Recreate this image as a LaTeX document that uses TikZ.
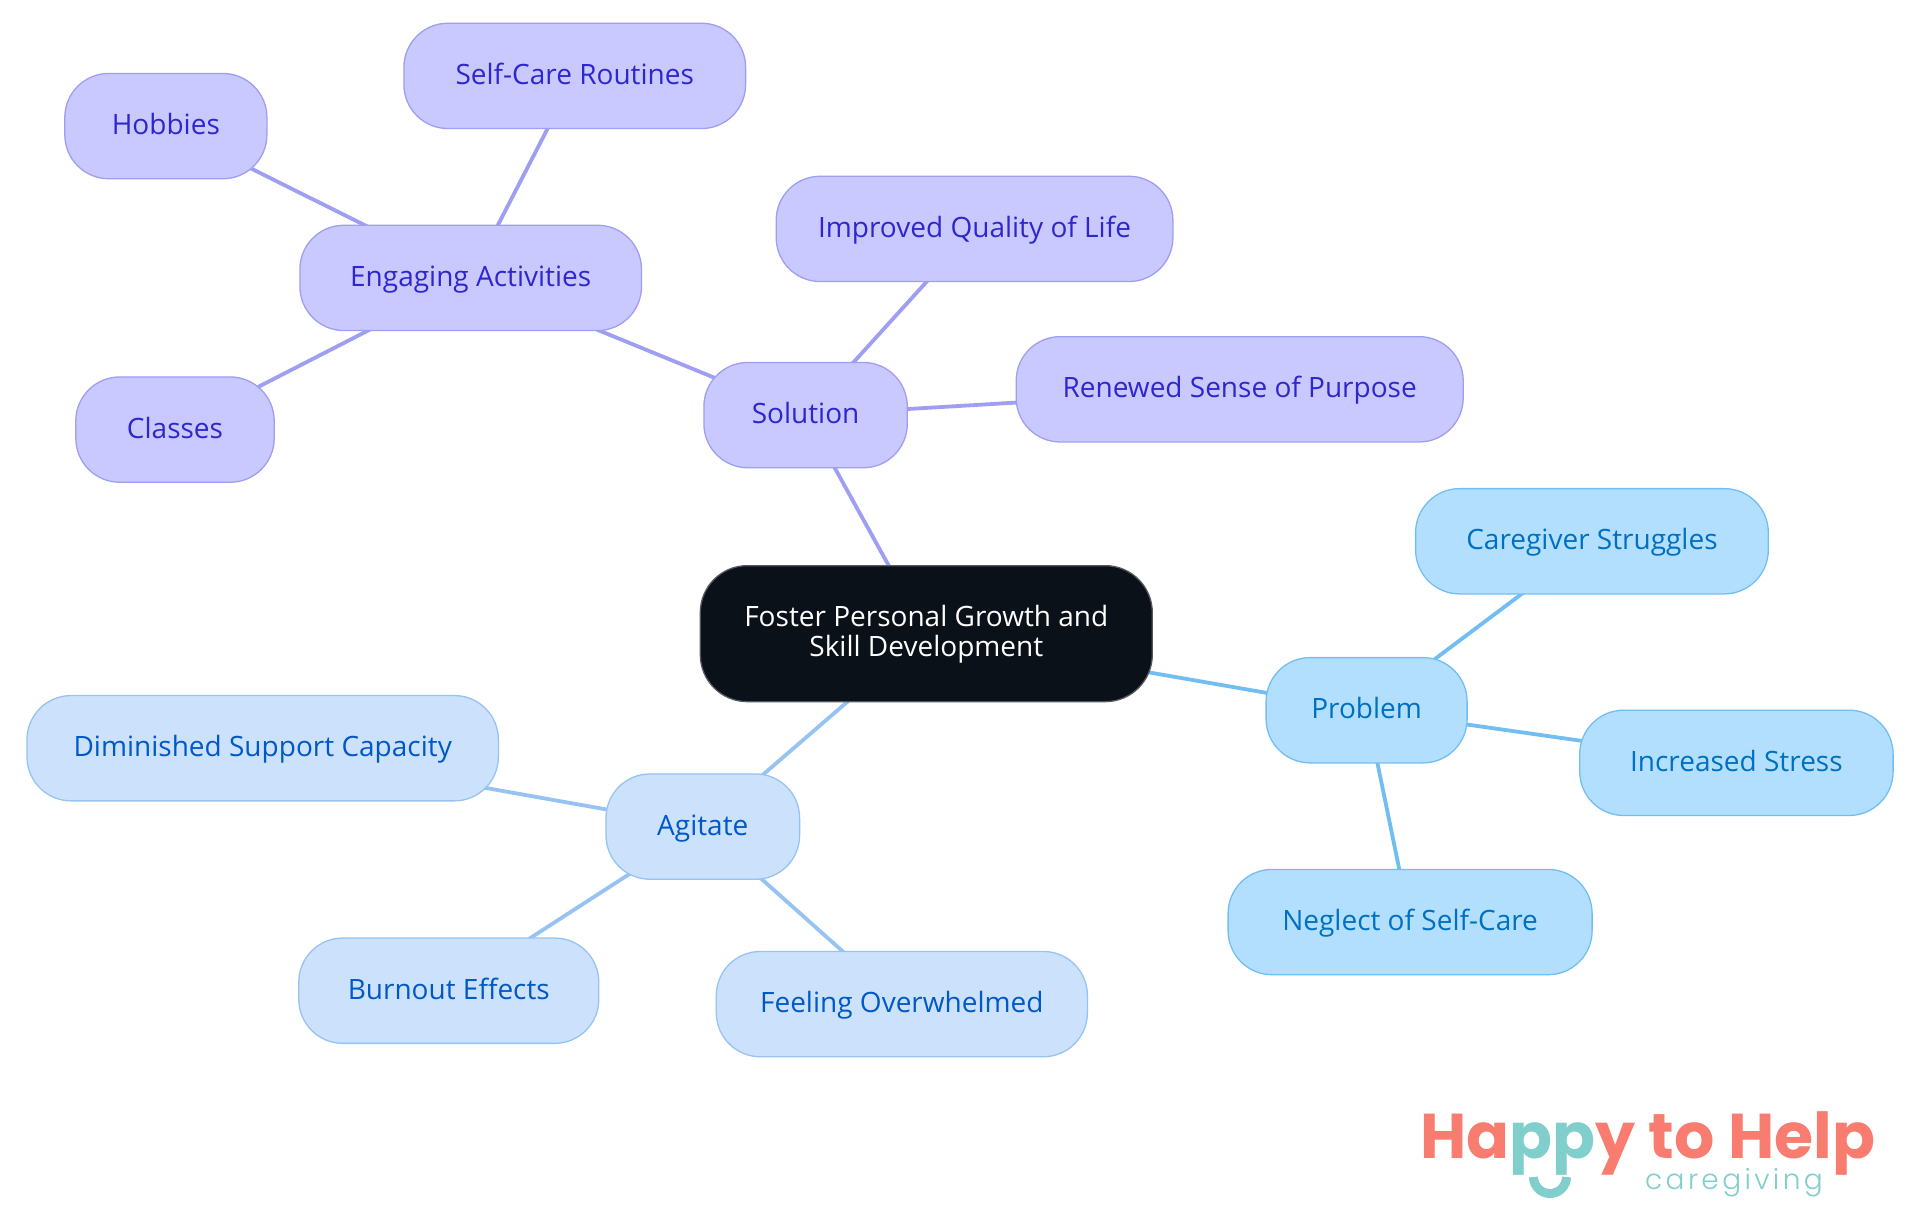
\documentclass[tikz,border=0pt]{standalone}
\usepackage{fontspec}
\setmainfont{Open Sans}
\newfontfamily\logofont{Poppins}[UprightFont=* Bold]
\newfontfamily\subfont{Poppins}[UprightFont=* Light,LetterSpace=12]
\usetikzlibrary{positioning,backgrounds}
\definecolor{rootFill}{HTML}{0B1119}
\definecolor{rootLine}{HTML}{55595F}
\definecolor{solFill}{HTML}{C9C9FF}
\definecolor{solLine}{HTML}{9E9EF2}
\definecolor{solText}{HTML}{2F27CE}
\definecolor{probFill}{HTML}{B3DFFF}
\definecolor{probLine}{HTML}{72BEF2}
\definecolor{probText}{HTML}{0070C0}
\definecolor{agiFill}{HTML}{CCE2FC}
\definecolor{agiLine}{HTML}{96C3F2}
\definecolor{agiText}{HTML}{0059C7}
\definecolor{coral}{HTML}{F87C6F}
\definecolor{mint}{HTML}{80CFCD}
\tikzset{
	box/.style={
		rectangle,
		rounded corners=44pt,
		line width=1.3pt,
		inner sep=0pt,
		outer sep=0pt,
		minimum height=105.3pt,
		text height=21pt,
		text depth=4pt,
		font=\fontsize{28}{30.6}\selectfont,
	},
	rootN/.style={
		box,
		draw=rootLine,
		fill=rootFill,
		text=white,
		align=center,
		minimum width=452pt,
		minimum height=136pt,
		text height=50.6pt,
		rounded corners=47pt,
	},
	solN/.style={
		box,
		draw=solLine,
		fill=solFill,
		text=solText,
	},
	probN/.style={
		box,
		draw=probLine,
		fill=probFill,
		text=probText,
	},
	agiN/.style={
		box,
		draw=agiLine,
		fill=agiFill,
		text=agiText,
	},
	linkS/.style={
		draw=solLine,
		line width=3.8pt,
	},
	linkP/.style={
		draw=probLine,
		line width=3.8pt,
	},
	linkA/.style={
		draw=agiLine,
		line width=3.8pt,
	},
}
\begin{document}
\begin{tikzpicture}
	\useasboundingbox (0,0) rectangle (1920pt,-1215pt);
	\node [rootN] (root) at (926.3pt,-633.65pt) {Foster Personal Growth and\\Skill Development};

	\node [
      solN,
      minimum width=203.4pt,
      above right=97.9pt and 3.6pt of root.north west
    ] (sol) {Solution};
	\node [
      solN,
      minimum width=341.6pt,
      above left=31.9pt and 62.4pt of sol
    ] (eng) {Engaging Activities};
	\node [
      solN,
      minimum width=341.7pt,
      above right=96.7pt and 104pt of eng.north west
    ] (self) {Self-Care Routines};
	\node [
      solN,
      minimum width=202.1pt,
      above left=46.5pt and 33pt of eng
    ] (hob) {Hobbies};
	\node [
      solN,
      minimum width=198.4pt,
      below left=46.4pt and 25.7pt of eng
    ] (cla) {Classes};
	\node [
      solN,
      minimum width=396.7pt,
      above right=80.9pt and 72.3pt of sol.north west
    ] (imp) {Improved Quality of Life};
	\node [
      solN,
      minimum width=447pt,
      right=108.9pt of sol,
      yshift=25.8pt
    ] (ren) {Renewed Sense of Purpose};

	\node [
      probN,
      minimum width=201pt,
      right=113.8pt of root,
      yshift=-76.6pt
    ] (prob) {Problem};
	\node [
      probN,
      minimum width=352.7pt,
      above right=63.7pt and 149.5pt of prob.north west
    ] (care) {Caregiver Struggles};
	\node [
      probN,
      minimum width=313.4pt,
      right=112.6pt of prob,
      yshift=-52.6pt
    ] (inc) {Increased Stress};
	\node [
      probN,
      minimum width=364pt,
      below=106.5pt of prob,
      xshift=43.5pt
    ] (neg) {Neglect of Self-Care};

	\node [
      agiN,
      minimum width=193.6pt,
      below=72.3pt of root,
      xshift=-223.5pt
    ] (agi) {Agitate};
	\node [
      agiN,
      minimum width=471.4pt,
      left=107.6pt of agi,
      yshift=78.4pt
    ] (dim) {Diminished Support Capacity};
	\node [
      agiN,
      minimum width=300pt,
      below left=58.8pt and 7.2pt of agi
    ] (burn) {Burnout Effects};
	\node [
      agiN,
      minimum width=371.1pt,
      below right=72.2pt and 110.3pt of agi.south west
    ] (feel) {Feeling Overwhelmed};

    \begin{pgfonlayer}{background}
    \draw[linkS] (root.center) -- (sol.center);
    \draw[linkS] (sol.center) -- (eng.center);
    \draw[linkS] (sol.center) -- (imp.center);
    \draw[linkS] (sol.center) -- (ren.center);
    \draw[linkS] (eng.center) -- (self.center);
    \draw[linkS] (eng.center) -- (hob.center);
    \draw[linkS] (eng.center) -- (cla.center);

    \draw[linkP] (root.center) -- (prob.center);
    \draw[linkP] (prob.center) -- (care.center);
    \draw[linkP] (prob.center) -- (inc.center);
    \draw[linkP] (prob.center) -- (neg.center);

    \draw[linkA] (root.center) -- (agi.center);
    \draw[linkA] (agi.center) -- (dim.center);
    \draw[linkA] (agi.center) -- (burn.center);
    \draw[linkA] (agi.center) -- (feel.center);
    \end{pgfonlayer}

	\node [
      anchor=base west,
      inner sep=0pt,
      text=coral,
      font=\logofont\fontsize{63.3}{63.3}\selectfont
    ] (logo) at (1420pt,-1158pt) {Ha\textcolor{mint}{pp}y to Help};
	\node [
      anchor=base west,
      inner sep=0pt,
      text=mint,
      font=\subfont\fontsize{28}{28}\selectfont
    ] (tag) at (1645pt,-1189pt) {caregiving};
	\draw[mint,line width=9pt] (1533.5pt,-1177pt) arc[start angle=180,end angle=360,radius=16.5pt];
\end{tikzpicture}
\end{document}
